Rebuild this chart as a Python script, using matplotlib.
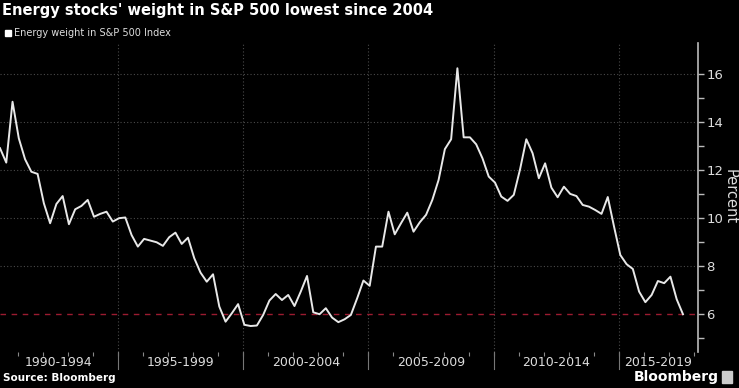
import numpy as np
import matplotlib
matplotlib.use('Agg')
import matplotlib.pyplot as plt

# quarterly energy weight in S&P 500 (percent)
weight = [12.90, 12.30, 14.83, 13.31, 12.44, 11.92, 11.83, 10.61, 9.78, 10.58,
          10.91, 9.74, 10.36, 10.50, 10.75, 10.05, 10.17, 10.26, 9.85, 9.99,
          10.02, 9.29, 8.81, 9.13, 9.06, 8.99, 8.84, 9.20, 9.39, 8.92,
          9.18, 8.33, 7.73, 7.35, 7.66, 6.32, 5.69, 6.04, 6.42, 5.56,
          5.51, 5.53, 5.97, 6.57, 6.84, 6.59, 6.80, 6.34, 6.94, 7.59,
          6.08, 6.00, 6.25, 5.86, 5.67, 5.79, 5.97, 6.66, 7.40, 7.18,
          8.81, 8.81, 10.26, 9.32, 9.78, 10.22, 9.43, 9.82, 10.13, 10.75,
          11.58, 12.86, 13.27, 16.22, 13.35, 13.35, 13.06, 12.48, 11.72, 11.47,
          10.89, 10.71, 10.96, 12.02, 13.27, 12.69, 11.65, 12.27, 11.26, 10.86,
          11.30, 11.00, 10.91, 10.54, 10.47, 10.33, 10.17, 10.87, 9.64, 8.46,
          8.08, 7.88, 6.94, 6.50, 6.80, 7.38, 7.29, 7.56, 6.62, 6.00]
first_quarter = 1990.3
period_edges = [1995, 2000, 2005, 2010, 2015]
period_labels = ['1990-1994', '1995-1999', '2000-2004', '2005-2009', '2010-2014', '2015-2019']
low_level = 6

x = first_quarter + 0.25 * np.arange(len(weight))
xmin, xmax = 1990.3, 2018.15

fig = plt.figure(figsize=(7.39, 3.88), dpi=100, facecolor='black')
ax = fig.add_axes([0, 1 - 352 / 388, 698 / 739, (352 - 43) / 388])
ax.set_facecolor('black')

ax.plot(x, weight, color='#e8e8e8', lw=1.4, zorder=3)
ax.axhline(low_level, color='#9b1b30', lw=1, ls=(0, (4, 4)), zorder=2)

ax.set_xlim(xmin, xmax)
ax.set_ylim(4.43, 17.27)

# grid
for yv in [8, 10, 12, 14, 16]:
    ax.axhline(yv, color='#4a4a4a', lw=0.8, ls=(0, (1, 2)), zorder=1)
for e in period_edges:
    ax.axvline(e, color='#4a4a4a', lw=0.8, ls=(0, (1, 2)), zorder=1)

# right y axis
ax.yaxis.tick_right()
ax.set_yticks([6, 8, 10, 12, 14, 16])
ax.set_yticks([5, 7, 9, 11, 13, 15], minor=True)
ax.tick_params(axis='y', which='both', colors='#bbbbbb', labelcolor='#dddddd',
               labelsize=9.5, length=4, width=1, pad=2)
fig.text(730 / 739, 1 - 197 / 388, 'Percent', color='#dddddd', fontsize=10.5,
         rotation=270, ha='center', va='center')

for s in ['top', 'left', 'bottom']:
    ax.spines[s].set_visible(False)
ax.spines['right'].set_color('#bbbbbb')
ax.spines['right'].set_linewidth(1.2)

# bottom axis: yearly ticks, long separators between periods
ax.set_xticks(np.arange(1991, 2019))
ax.tick_params(axis='x', which='major', colors='#888888', length=3, width=0.8,
               labelbottom=False)
for e in period_edges:
    ax.plot([e, e], [0, -0.055], transform=ax.get_xaxis_transform(),
            color='#777777', lw=0.8, clip_on=False)
centers = [(a + b) / 2 for a, b in zip([xmin] + period_edges, period_edges + [xmax])]
for c, lab in zip(centers, period_labels):
    ax.text(c, -0.035, lab, transform=ax.get_xaxis_transform(), ha='center', va='center',
            color='#dddddd', fontsize=9)

# title, legend, source
fig.text(0.003, 0.972, "Energy stocks' weight in S&P 500 lowest since 2004",
         color='white', fontsize=10.5, fontweight='bold', va='center', ha='left')
fig.patches.append(plt.Rectangle((5 / 739, 1 - 36 / 388), 6 / 739, 6 / 388,
                                 transform=fig.transFigure, color='white'))
fig.text(14 / 739, 1 - 33 / 388, 'Energy weight in S&P 500 Index', color='#dddddd',
         fontsize=7, va='center', ha='left')
fig.text(0.004, 1 - 378 / 388, 'Source: Bloomberg', color='white', fontsize=7.5,
         fontweight='bold', va='center', ha='left')
fig.text(0.973, 1 - 377 / 388, 'Bloomberg', color='white', fontsize=10,
         fontweight='bold', va='center', ha='right')
fig.patches.append(plt.Rectangle((722 / 739, 1 - 383 / 388), 10 / 739, 12 / 388,
                                 transform=fig.transFigure, color='#cccccc'))

fig.savefig('out.png', dpi=100, facecolor='black')
